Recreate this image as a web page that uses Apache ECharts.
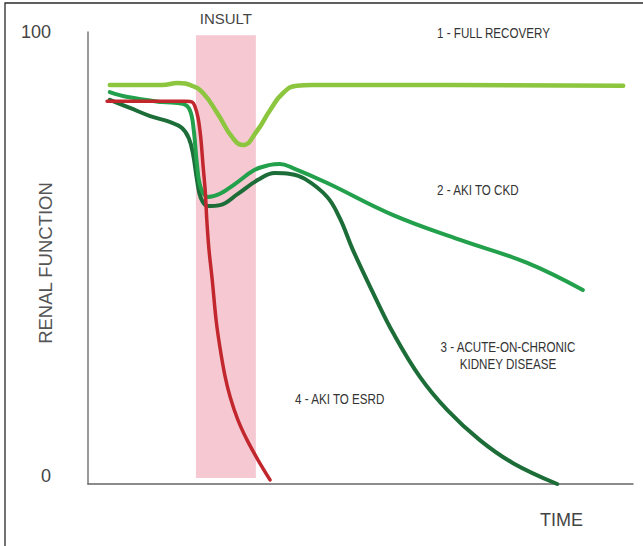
<!DOCTYPE html>
<html>
<head>
<meta charset="utf-8">
<script src="https://cdn.jsdelivr.net/npm/echarts@6/dist/echarts.min.js"></script>
<style>
html,body{margin:0;padding:0;background:#fff;}
#chart{width:643px;height:546px;}
</style>
</head>
<body>
<div id="chart"></div>
<script>
// ---- data (time units 0..100, renal function 0..100) ----
var fullRecoveryX = [4.0, 13.6, 16.5, 19.1, 21.1, 23.7, 26.6, 28.4, 31.0, 33.4, 35.8, 38.3, 41.1, 66.4, 98.2];
var fullRecoveryY = [88.3, 88.3, 88.7, 88.1, 86.5, 82.1, 76.5, 75.0, 78.1, 82.7, 86.5, 88.1, 88.3, 88.3, 88.1];

var akiCkdX = [4.0, 7.3, 13.6, 17.4, 18.7, 19.4, 20.0, 20.7, 22.0, 24.2, 27.0, 30.6, 33.4, 35.2, 37.6, 43.9, 56.0, 68.3, 80.6, 90.8];
var akiCkdY = [86.7, 85.6, 84.5, 84.1, 82.7, 78.3, 70.6, 65.5, 63.5, 64.2, 66.4, 69.5, 70.6, 70.8, 69.9, 66.6, 59.5, 54.0, 48.9, 42.9];

var acuteChronicX = [4.0, 7.7, 11.4, 15.0, 17.2, 18.5, 19.3, 20.0, 20.7, 22.0, 24.2, 27.5, 31.2, 34.3, 37.1, 39.8, 43.9, 46.2, 48.6, 52.3, 56.0, 60.9, 65.9, 71.9, 78.0, 86.1];
var acuteChronicY = [85.0, 83.2, 81.4, 80.1, 78.8, 76.5, 72.8, 67.3, 63.3, 61.5, 61.7, 64.2, 67.3, 68.8, 68.6, 67.5, 63.5, 58.8, 51.8, 42.3, 33.4, 23.7, 16.4, 9.7, 4.6, 0.0];

var akiEsrdX = [3.5, 11.4, 18.0, 19.1, 19.6, 20.2, 20.7, 21.1, 21.5, 21.8, 22.2, 22.8, 23.5, 24.2, 25.1, 26.1, 27.5, 29.2, 31.2, 33.4];
var akiEsrdY = [84.7, 84.7, 84.7, 84.5, 83.6, 81.0, 76.5, 70.6, 65.0, 58.4, 51.8, 45.1, 36.3, 30.3, 24.1, 19.2, 14.2, 9.7, 5.3, 0.9];

var insultRange = [19.8, 30.8];      // time
var insultLevel = [1.3, 99.3];       // renal function extent of shaded band
var yTickLabels = [0, 100];

var seriesNames = ['1 - FULL RECOVERY', '2 - AKI TO CKD', '3 - ACUTE-ON-CHRONIC\nKIDNEY DISEASE', '4 - AKI TO ESRD'];

function pairs(xs, ys){ return xs.map(function(x,i){ return [x, ys[i]]; }); }

var C_LIGHT = '#8cc63f', C_MID = '#22a04b', C_MID_PALE = '#74c27a', C_DARK = '#1c6d38', C_RED = '#c1272d';
var labelFont = "14px 'Liberation Sans', sans-serif";
var NARROW = 0.83;

var chart = echarts.init(document.getElementById('chart'), null, {renderer: 'svg'});
chart.setOption({
  animation: false,
  backgroundColor: '#fff',
  grid: {left: 88, right: 10, top: 32, bottom: 62, containLabel: false, outerBoundsMode: 'none'},
  xAxis: {
    type: 'value', min: 0, max: 100,
    name: 'TIME', nameLocation: 'end', nameGap: -50, nameMoveOverlap: false,
    nameTextStyle: {fontFamily: 'Liberation Sans', fontSize: 18, color: '#444', align: 'right', verticalAlign: 'top', padding: [27, 0, 0, 0]},
    axisLine: {lineStyle: {color: '#666', width: 1.5}},
    axisTick: {show: false}, axisLabel: {show: false}, splitLine: {show: false}
  },
  yAxis: {
    type: 'value', min: 0, max: 100, interval: 100,
    name: 'RENAL FUNCTION', nameLocation: 'middle', nameRotate: 90, nameGap: 33, nameMoveOverlap: false,
    nameTextStyle: {fontFamily: 'Liberation Sans', fontSize: 18.5, color: '#555', padding: [0, 10, 0, 0]},
    axisLine: {show: true, lineStyle: {color: '#777', width: 1.5}},
    axisTick: {show: false}, splitLine: {show: false},
    axisLabel: {
      customValues: yTickLabels,
      margin: 37, fontFamily: 'Liberation Sans', fontSize: 18, color: '#444',
      formatter: function(v){ return v === 0 ? '{lo|' + v + '}' : '{hi|' + v + '}'; },
      rich: {
        lo: {fontFamily: 'Liberation Sans', fontSize: 18, color: '#444', padding: [0, 0, 16, 0]},
        hi: {fontFamily: 'Liberation Sans', fontSize: 18, color: '#444'}
      }
    }
  },
  visualMap: [{
    type: 'piecewise', show: false, seriesIndex: 1, dimension: 0,
    pieces: [
      {lt: insultRange[0], color: C_MID},
      {gte: insultRange[0], lte: insultRange[1], color: C_MID_PALE},
      {gt: insultRange[1], color: C_MID}
    ]
  }],
  series: [
    {
      name: seriesNames[0], type: 'line', data: pairs(fullRecoveryX, fullRecoveryY),
      smooth: 0.5, showSymbol: false, z: 3,
      lineStyle: {color: C_LIGHT, width: 4.5, cap: 'round'},
      markArea: {
        silent: true,
        itemStyle: {color: '#f6c8d2'},
        label: {show: true, position: 'top', distance: 9, fontFamily: 'Liberation Sans', fontSize: 15, color: '#444'},
        data: [[{name: 'INSULT', xAxis: insultRange[0], yAxis: insultLevel[0]}, {xAxis: insultRange[1], yAxis: insultLevel[1]}]]
      }
    },
    {
      name: seriesNames[1], type: 'line', data: pairs(akiCkdX, akiCkdY),
      smooth: 0.4, showSymbol: false, z: 4,
      lineStyle: {color: C_MID, width: 4, cap: 'round'}
    },
    {
      name: seriesNames[2], type: 'line', data: pairs(acuteChronicX, acuteChronicY),
      smooth: 0.4, showSymbol: false, z: 3,
      lineStyle: {color: C_DARK, width: 4, cap: 'round'}
    },
    {
      name: seriesNames[3], type: 'line', data: pairs(akiEsrdX, akiEsrdY),
      smooth: 0.3, showSymbol: false, z: 5,
      lineStyle: {color: C_RED, width: 3.5, cap: 'round'}
    }
  ],
  graphic: [
    {type: 'rect', silent: true, shape: {x: 5, y: 3, width: 700, height: 600},
     style: {fill: 'none', stroke: '#2a2a2a', lineWidth: 1.3}},
    {type: 'text', x: 437, y: 33, scaleX: NARROW, style: {text: seriesNames[0], font: labelFont, fill: '#333', align: 'left', verticalAlign: 'middle'}},
    {type: 'text', x: 437, y: 190, scaleX: NARROW, style: {text: seriesNames[1], font: labelFont, fill: '#333', align: 'left', verticalAlign: 'middle'}},
    {type: 'text', x: 508, y: 356, scaleX: NARROW, style: {text: seriesNames[2], font: labelFont, fill: '#333', align: 'center', verticalAlign: 'middle', lineHeight: 17}},
    {type: 'text', x: 295, y: 399, scaleX: NARROW, style: {text: seriesNames[3], font: labelFont, fill: '#333', align: 'left', verticalAlign: 'middle'}}
  ]
});
</script>
</body>
</html>
